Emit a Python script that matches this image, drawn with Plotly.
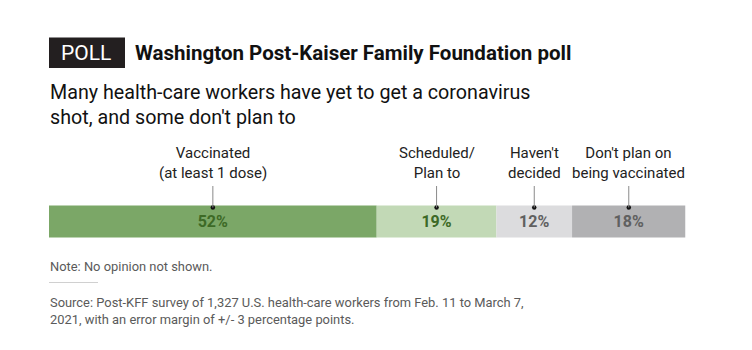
import plotly.graph_objects as go

categories = ["Vaccinated<br>(at least 1 dose)", "Scheduled/<br>Plan to", "Haven't<br>decided", "Don't plan on<br>being vaccinated"]
values = [52, 19, 12, 18]
value_labels = ["52%", "19%", "12%", "18%"]
bar_colors = ["#7ba767", "#c2d9b6", "#dcdcde", "#b1b1b3"]
text_colors = ["#3d6a26", "#3d6a26", "#606060", "#606060"]

W, H = 752, 350
FONT = "Roboto"
total = sum(values)

BAR_TOP, BAR_BOT = 205.5, 237.5
bar_mid = (BAR_TOP + BAR_BOT) / 2

fig = go.Figure()
starts = []
acc = 0
for cat, v, lab, bc, tc in zip(categories, values, value_labels, bar_colors, text_colors):
    starts.append(acc)
    fig.add_trace(go.Bar(
        x=[v], y=[bar_mid], base=[acc], orientation="h", width=BAR_BOT - BAR_TOP,
        marker=dict(color=bc, line=dict(width=0)),
        text=[lab], textposition="inside", insidetextanchor="middle",
        textfont=dict(family=FONT, size=16, color=tc, weight="bold"),
        hoverinfo="skip", showlegend=False,
    ))
    acc += v

centers = [s + v / 2 for s, v in zip(starts, values)]

# leader dots
fig.add_trace(go.Scatter(
    x=centers, y=[BAR_TOP + 2] * len(centers), mode="markers",
    marker=dict(color="#111111", size=4.5), hoverinfo="skip", showlegend=False,
))

shapes = []
annotations = []
for c, cat in zip(centers, categories):
    shapes.append(dict(type="line", xref="x", yref="y", x0=c, x1=c, y0=186, y1=BAR_TOP + 2,
                       line=dict(color="#8a8a8a", width=1)))
    annotations.append(dict(xref="x", yref="y", x=c, y=163, yanchor="middle", xanchor="center",
                            text=cat, showarrow=False, align="center",
                            font=dict(family=FONT, size=15, color="#222222")))

# POLL box
shapes.append(dict(type="rect", xref="paper", yref="y", x0=49 / W, x1=125 / W, y0=37.5, y1=68,
                   fillcolor="#231f20", line=dict(width=0), layer="above"))
annotations.append(dict(xref="paper", yref="y", x=86 / W, y=53, xanchor="center", yanchor="middle",
                        text="POLL", showarrow=False,
                        font=dict(family=FONT, size=21, color="#ffffff")))
annotations.append(dict(xref="paper", yref="y", x=133 / W, y=53, xanchor="left", yanchor="middle",
                        text="<b>Washington Post-Kaiser Family Foundation poll</b>", showarrow=False,
                        font=dict(family=FONT, size=20.5, color="#111111")))
sub_lines = ["Many health-care workers have yet to get a coronavirus", "shot, and some don't plan to"]
for i, line in enumerate(sub_lines):
    annotations.append(dict(xref="paper", yref="y", x=48 / W, y=92 + 25 * i, xanchor="left", yanchor="middle",
                            text=line, showarrow=False, align="left",
                            font=dict(family=FONT, size=19.7, color="#111111")))
annotations.append(dict(xref="paper", yref="y", x=48 / W, y=266, xanchor="left", yanchor="middle",
                        text="Note: No opinion not shown.", showarrow=False,
                        font=dict(family=FONT, size=12.9, color="#5a5a5a")))
shapes.append(dict(type="line", xref="paper", yref="y", x0=49 / W, x1=98 / W, y0=282.5, y1=282.5,
                   line=dict(color="#d0d0d0", width=1)))
src_lines = ["Source: Post-KFF survey of 1,327 U.S. health-care workers from Feb. 11 to March 7,",
             "2021, with an error margin of +/- 3 percentage points."]
for i, line in enumerate(src_lines):
    annotations.append(dict(xref="paper", yref="y", x=48 / W, y=302 + 17 * i, xanchor="left", yanchor="middle",
                            text=line, showarrow=False, align="left",
                            font=dict(family=FONT, size=12.9, color="#5a5a5a")))

fig.update_layout(
    width=W, height=H, margin=dict(l=0, r=0, t=0, b=0),
    paper_bgcolor="#ffffff", plot_bgcolor="#ffffff",
    barmode="overlay",
    xaxis=dict(range=[0, total], domain=[49 / W, 685.5 / W], visible=False, fixedrange=True),
    yaxis=dict(range=[H, 0], domain=[0, 1], visible=False, fixedrange=True),
    shapes=shapes, annotations=annotations,
    uniformtext=dict(mode=False),
)

fig.write_html("out.html")
